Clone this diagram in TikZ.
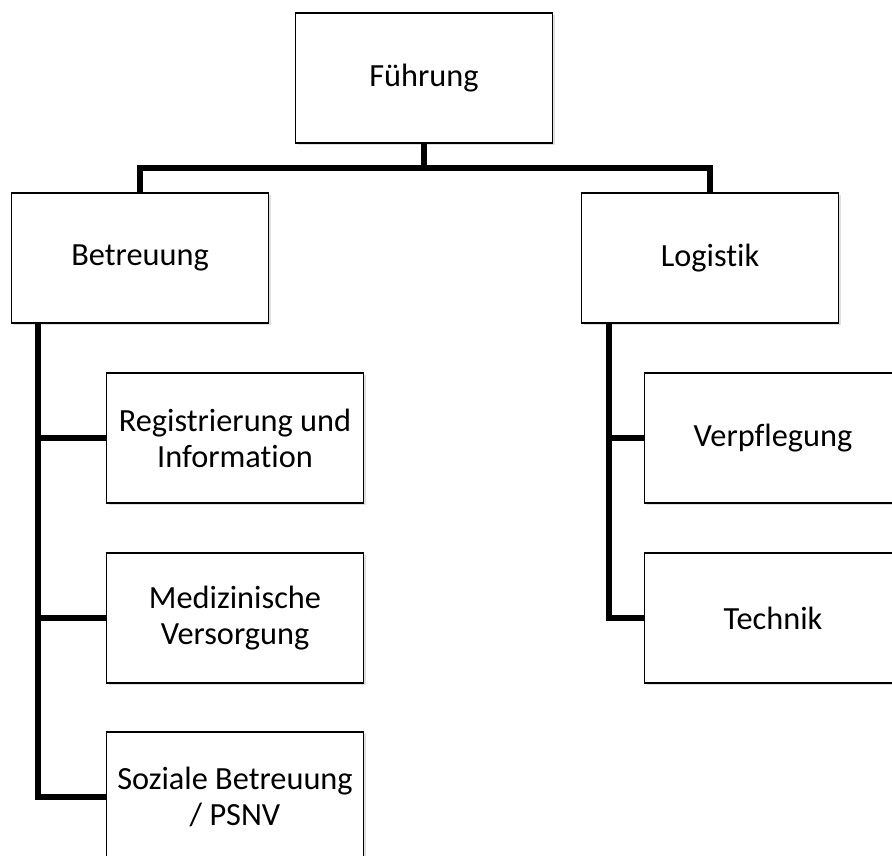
\documentclass[tikz,border=0pt]{standalone}
\usepackage{fontspec}
\setmainfont{Carlito}[Ligatures=CommonOff]
\usetikzlibrary{shadows}
\begin{document}
\begin{tikzpicture}[
  x=0.02cm, y=-0.02cm,
  unit/.style={draw=black, line width=0.9pt, fill=white, rectangle, minimum width=5.14cm,
    minimum height=2.6cm, align=center, font=\fontsize{18.4}{20.5}\selectfont, inner sep=2pt,
    drop shadow={shadow xshift=1.2pt, shadow yshift=-1.4pt, opacity=0.25}},
  link/.style={line width=3pt, draw=black}]
  \useasboundingbox (0,0) rectangle (892,855);
  \node[unit] (fuehrung) at (424, 78) {Führung};
  \node[unit] (betreuung) at (140, 258) {Betreuung};
  \node[unit] (logistik) at (710, 258) {Logistik};
  \node[unit] (reg) at (235, 438) {Registrierung und\\Information};
  \node[unit] (med) at (235, 618) {Medizinische\\Versorgung};
  \node[unit] (soz) at (235, 797) {Soziale Betreuung\\/ PSNV};
  \node[unit] (verpf) at (773, 438) {Verpflegung};
  \node[unit] (technik) at (773, 618) {Technik};
  \coordinate (bus) at (424, 168);
  \coordinate (lspine) at (38, 323);
  \coordinate (rspine) at (609, 323);
  \draw[link] (fuehrung.south) -- (bus);
  \draw[link] (betreuung.north) |- (bus) -| (logistik.north);
  \draw[link] (lspine) |- (soz.west);
  \draw[link] (lspine |- reg.west) -- (reg.west);
  \draw[link] (lspine |- med.west) -- (med.west);
  \draw[link] (rspine) |- (technik.west);
  \draw[link] (rspine |- verpf.west) -- (verpf.west);
\end{tikzpicture}
\end{document}
